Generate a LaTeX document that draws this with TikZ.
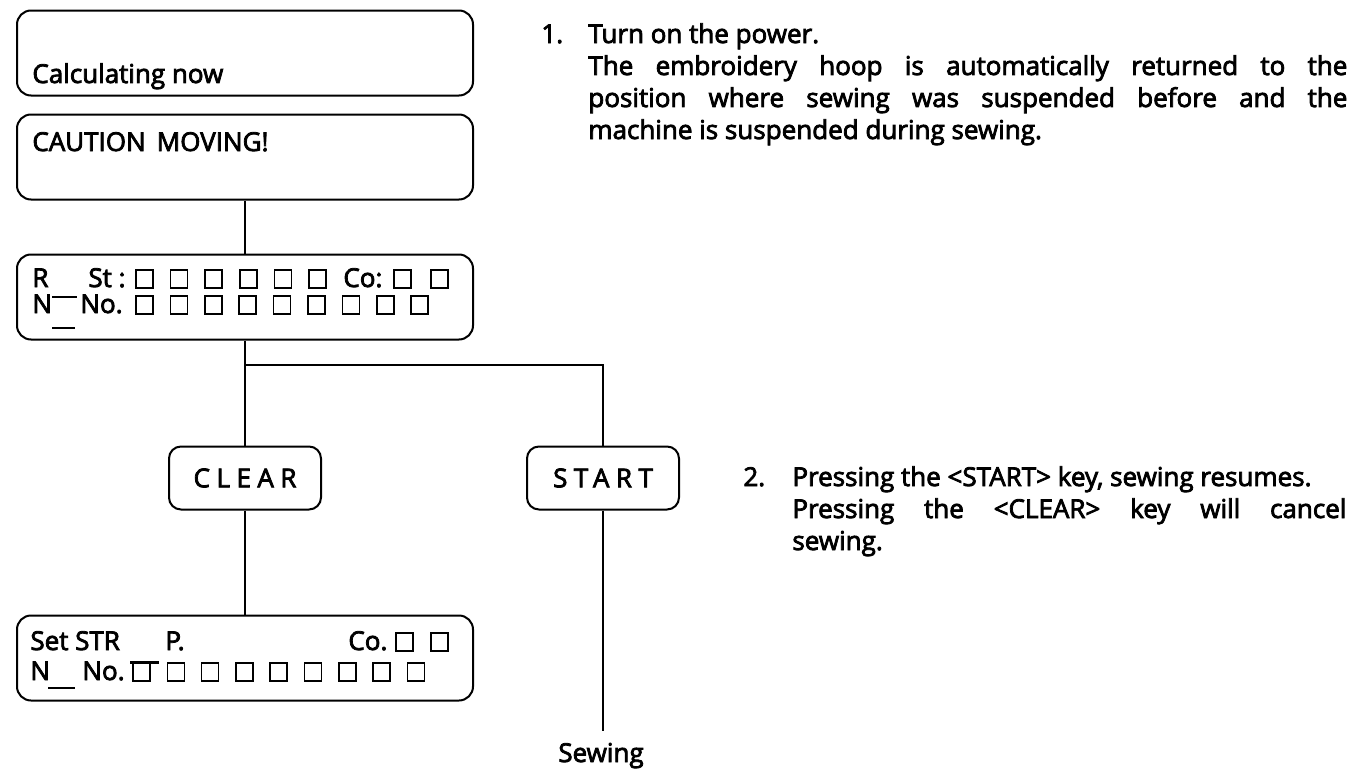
\documentclass[tikz,border=0pt]{standalone}
\usepackage{fontspec}
\setmainfont{Open Sans}[FakeBold=3]
\newfontfamily\keyfont{Open Sans}[LetterSpace=25,FakeBold=3]
\newcommand\panelfont{\fontsize{13}{16}\selectfont}
\usetikzlibrary{positioning}
\tikzset{
  panel/.style={draw,line width=1pt,rounded corners=7pt,minimum width=228pt,minimum height=42.5pt},
  keycap/.style={draw,line width=1pt,rounded corners=6pt,minimum width=76pt,minimum height=31.5pt,font=\keyfont\fontsize{13}{16}\selectfont},
  lbl/.style={anchor=base west,inner sep=0pt,font=\panelfont},
  note/.style={lbl,align=justify},
  cell/.style={line width=.75pt},
  wire/.style={line width=1pt}
}
\begin{document}
\begin{tikzpicture}[x=.5pt,y=-.5pt]
\useasboundingbox (0,0) rectangle (1367,771);
\node[panel] (calc) at (245,53) {}; \node[panel] (caution) at (245,157) {};
\node[panel] (status) at (245,297) {}; \node[panel] (setstr) at (245,658) {};
\node[keycap] (clear) at (245,478) {CLEAR}; \node[keycap] (start) at (603,478) {START};
\node[lbl,anchor=base,inner sep=6pt] (sewing) at (601,762) {Sewing};
\coordinate (fork) at (245,365);
\draw[wire] (caution) -- (status); \draw[wire] (status) -- (fork) -| (start);
\draw[wire] (fork) -- (clear); \draw[wire] (clear) -- (setstr); \draw[wire] (start) -- (start |- sewing.north);
\node[lbl] (calctxt) at (32,83) {Calculating now};
\node[lbl] (cautxt) at (32,151) {CAUTION\ \,MOVING!};
\node[lbl] (rtxt) at (32,287) {R}; \node[lbl] (sttxt) at (88,287) {St :}; \node[lbl] (cotxt) at (343,287) {Co:};
\node[lbl] (ntxt) at (32,313) {N}; \node[lbl] (notxt) at (80,313) {No.};
\draw[cell] (52,297) -- (77,297); \draw[cell] (52,328) -- (75,328);
\foreach \i in {0,...,5} \draw[cell] ({136+34.6*\i},270) rectangle +(17,18);
\foreach \x in {394,431} \draw[cell] (\x,270) rectangle +(17,18);
\foreach \i in {0,...,8} \draw[cell] ({136+34.4*\i},296) rectangle +(17,18);
\node[lbl] (settxt) at (30,650) {Set STR}; \node[lbl] (ptxt) at (165,650) {P.}; \node[lbl] (co2txt) at (348,650) {Co.};
\node[lbl] (n2txt) at (30,680) {N}; \node[lbl] (no2txt) at (82,680) {No.};
\draw[cell] (48,688) -- (75,688); \draw[line width=1.5pt] (130,662) -- (159,662);
\foreach \x in {396,431} \draw[cell] (\x,633) rectangle +(17,18);
\foreach \i in {0,...,8} \draw[cell] ({133+34.3*\i},663) rectangle +(17,18);
\node[lbl] (num1) at (541,43) {1.};
\node[note,text width=379.5pt] (step1) at (588,43) {Turn on the power.\hfill\break The embroidery hoop is automatically returned to the\linebreak position where sewing was suspended before and the\linebreak machine is suspended during sewing.};
\node[lbl] (num2) at (743,486) {2.};
\node[note,text width=277pt] (step2) at (792,486) {Pressing the <START> key, sewing resumes.\hfill\break Pressing the <CLEAR> key will cancel\linebreak sewing.};
\end{tikzpicture}
\end{document}
